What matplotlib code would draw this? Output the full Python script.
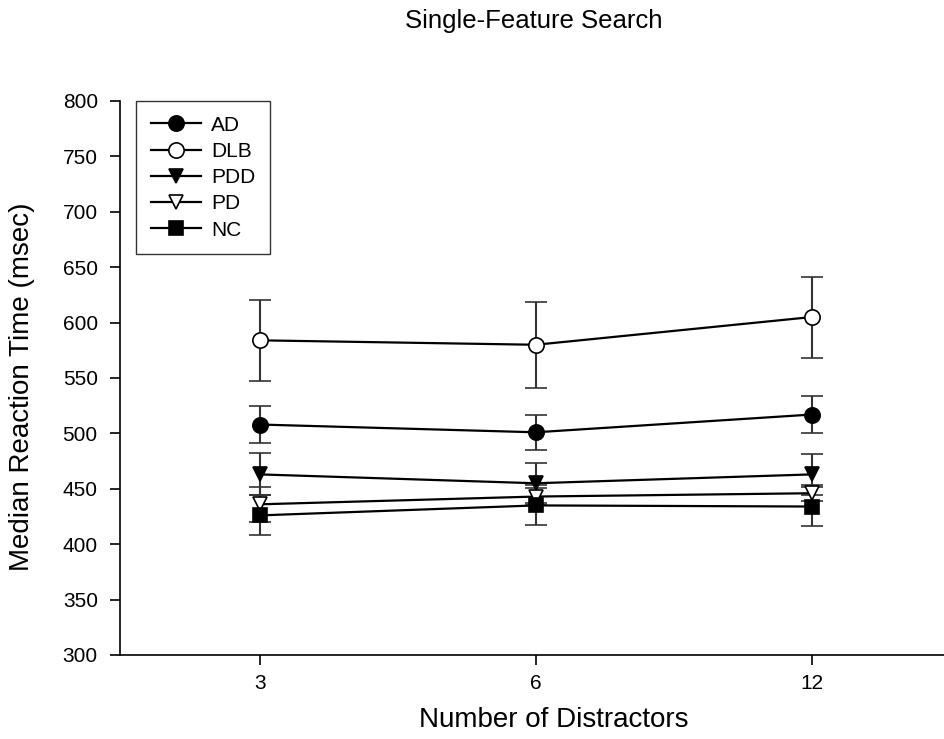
import matplotlib
matplotlib.use("Agg")
import matplotlib.pyplot as plt
from matplotlib.lines import Line2D
import numpy as np

plt.rcParams['font.family'] = ['Liberation Sans', 'DejaVu Sans']

distractors = ["3", "6", "12"]
groups = ["AD", "DLB", "PDD", "PD", "NC"]
ad = [508, 501, 517]
ad_err = [16.5, 16, 17]
dlb = [584, 580, 605]
dlb_err = [36.5, 39, 36.5]
pdd = [463, 455, 463]
pdd_err = [19, 18, 18.5]
pd = [436, 443, 446]
pd_err = [16, 8, 7]
nc = [426, 435, 434]
nc_err = [18, 18, 18]

series = [
    (ad, ad_err, 'o', 'black'),
    (dlb, dlb_err, 'o', 'white'),
    (pdd, pdd_err, 'v', 'black'),
    (pd, pd_err, 'v', 'white'),
    (nc, nc_err, 's', 'black'),
]

fig = plt.figure(figsize=(9.44, 7.39), dpi=100)
ax = fig.add_axes([120/944, 1-655/739, 1-120/944, (655-101)/739])

x = np.arange(len(distractors))
handles = []
for (vals, errs, mk, fc), name in zip(series, groups):
    ms = 11 if mk == 'o' else (10 if mk == 'v' else 9.5)
    ax.errorbar(x, vals, yerr=errs, color='black', ecolor='#333333', elinewidth=1.5,
                capsize=8, capthick=1.5, lw=1.6, marker=mk, markersize=ms,
                markerfacecolor=fc, markeredgecolor='black', markeredgewidth=1.2)
    handles.append(Line2D([], [], color='black', lw=1.6, marker=mk, markersize=ms,
                          markerfacecolor=fc, markeredgecolor='black',
                          markeredgewidth=1.2, label=name))

ax.set_xlim(-0.507, 2.48)
ax.set_ylim(300, 800)
ax.set_yticks(np.arange(300, 801, 50))
ax.set_xticks(x)
ax.set_xticklabels(distractors)
ax.tick_params(axis='both', direction='out', length=7, width=1.2, labelsize=15, colors='black', pad=7)
ax.tick_params(axis='y', pad=9)
ax.spines['top'].set_visible(False)
ax.spines['right'].set_visible(False)
for s in ['left', 'bottom']:
    ax.spines[s].set_linewidth(1.2)

fig.text(22/944, 1-387/739, "Median Reaction Time (msec)", rotation=90,
         ha='center', va='center', fontsize=20)
fig.text(554/944, 1-720/739, "Number of Distractors", ha='center', va='center', fontsize=20)
fig.text(534/944, 1-21/739, "Single-Feature Search", ha='center', va='center', fontsize=18.5)

leg = ax.legend(handles=handles, loc='upper left', bbox_to_anchor=(0.0194, 1.0),
                frameon=True, fancybox=False, edgecolor='black', fontsize=15,
                handlelength=2.4, borderpad=0.7, labelspacing=0.35, handletextpad=0.5,
                borderaxespad=0)
leg.get_frame().set_linewidth(1.0)

fig.savefig("out.png", dpi=100)
